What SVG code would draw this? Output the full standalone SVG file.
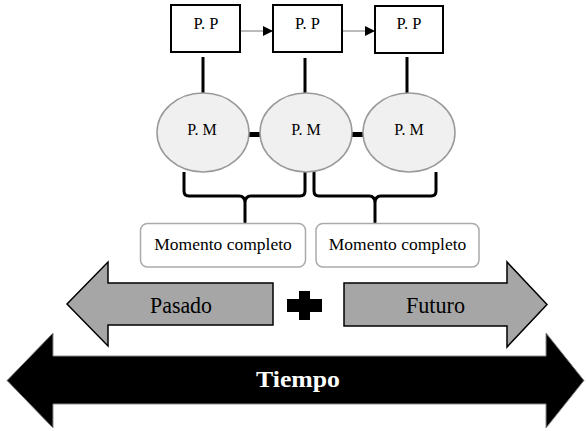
<svg xmlns="http://www.w3.org/2000/svg" width="586" height="431" viewBox="0 0 586 431">
<style>
.pp{fill:#fff;stroke:#000;stroke-width:2}
.pm{fill:#f0f0f0;stroke:#999;stroke-width:1.5}
.mc{fill:#fff;stroke:#aaa;stroke-width:1.5}
.ga{fill:#a6a6a6;stroke:#000;stroke-width:1.5}
.t{font-family:"Liberation Serif","Times New Roman",serif;fill:#000;text-anchor:middle}
.vl{stroke:#000;stroke-width:3;fill:none}
.br{stroke:#000;stroke-width:3;fill:none;stroke-linejoin:round}
.thin{stroke:#777;stroke-width:1.2;fill:none}
</style>
<defs>
<marker id="ah" viewBox="0 0 10 10" refX="10" refY="5" markerWidth="11" markerHeight="10" markerUnits="userSpaceOnUse" orient="auto">
<path d="M0,0 L10,5 L0,10 Z" fill="#000"/>
</marker>
</defs>
<rect width="586" height="431" fill="#fff"/>

<g id="connectors">
<line class="thin" x1="240" y1="31" x2="273" y2="31" marker-end="url(#ah)"/>
<line class="thin" x1="342" y1="31" x2="375" y2="31" marker-end="url(#ah)"/>
<line class="vl" x1="203" y1="57" x2="203" y2="93"/>
<line class="vl" x1="305" y1="58" x2="305" y2="94"/>
<line class="vl" x1="407" y1="57" x2="407" y2="93"/>
<line x1="249" y1="134.5" x2="260" y2="134.5" stroke="#000" stroke-width="5"/>
<line x1="352" y1="134.5" x2="363" y2="134.5" stroke="#000" stroke-width="5"/>
<path class="br" d="M184,172 V191 Q184,196 189,196 H239 Q245,196 245,203 V222 V203 Q245,196 251,196 H300 Q305,196 305,191 V172"/>
<path class="br" d="M314,172 V191 Q314,196 319,196 H369 Q375,196 375,203 V222 V203 Q375,196 381,196 H431 Q436,196 436,191 V172"/>
</g>

<g id="pp1"><rect class="pp" x="171" y="5" width="69" height="47"/><text class="t" x="206" y="29" font-size="16.5">P. P</text></g>
<g id="pp2"><rect class="pp" x="273" y="5" width="69" height="47"/><text class="t" x="307.5" y="29" font-size="16.5">P. P</text></g>
<g id="pp3"><rect class="pp" x="375" y="6" width="68" height="47"/><text class="t" x="409" y="29" font-size="16.5">P. P</text></g>

<g id="pm1"><ellipse class="pm" cx="203" cy="132.5" rx="46" ry="39.5"/><text class="t" x="202" y="135" font-size="16">P. M</text></g>
<g id="pm2"><ellipse class="pm" cx="306" cy="132.5" rx="46" ry="39.5"/><text class="t" x="306" y="135" font-size="16">P. M</text></g>
<g id="pm3"><ellipse class="pm" cx="409" cy="132.5" rx="46" ry="39.5"/><text class="t" x="409" y="135" font-size="16">P. M</text></g>

<g id="mc1"><rect class="mc" x="140.5" y="223.5" width="165" height="43.5" rx="7"/><text class="t" x="223" y="250" font-size="17.5">Momento completo</text></g>
<g id="mc2"><rect class="mc" x="316" y="223.5" width="163" height="43.5" rx="7"/><text class="t" x="397.5" y="250" font-size="17.5">Momento completo</text></g>

<g id="pasado">
<path class="ga" d="M273,283 L108,283 L108,262 L67,304 L108,346 L108,325 L273,325 Z"/>
<text class="t" x="181" y="313" font-size="24" fill="#111" textLength="62" lengthAdjust="spacingAndGlyphs">Pasado</text>
</g>

<g id="plus">
<path d="M299,291 H310 V299 H322 V312 H310 V320 H299 V312 H287 V299 H299 Z" fill="#000"/>
</g>

<g id="futuro">
<path class="ga" d="M344,283 L507,283 L507,262 L547,304.5 L507,347 L507,326 L344,326 Z"/>
<text class="t" x="435.5" y="313" font-size="24" fill="#111" textLength="59" lengthAdjust="spacingAndGlyphs">Futuro</text>
</g>

<g id="tiempo">
<path d="M53,356 L546,356 L546,333 L584,380.5 L546,428 L546,404 L53,404 L53,428 L7,380.5 L53,333 Z" fill="#000" stroke="#888" stroke-width="1"/>
<text x="298" y="387" font-family="'Liberation Serif','Times New Roman',serif" font-weight="bold" font-size="24" fill="#fff" text-anchor="middle" textLength="84" lengthAdjust="spacingAndGlyphs">Tiempo</text>
</g>
</svg>
